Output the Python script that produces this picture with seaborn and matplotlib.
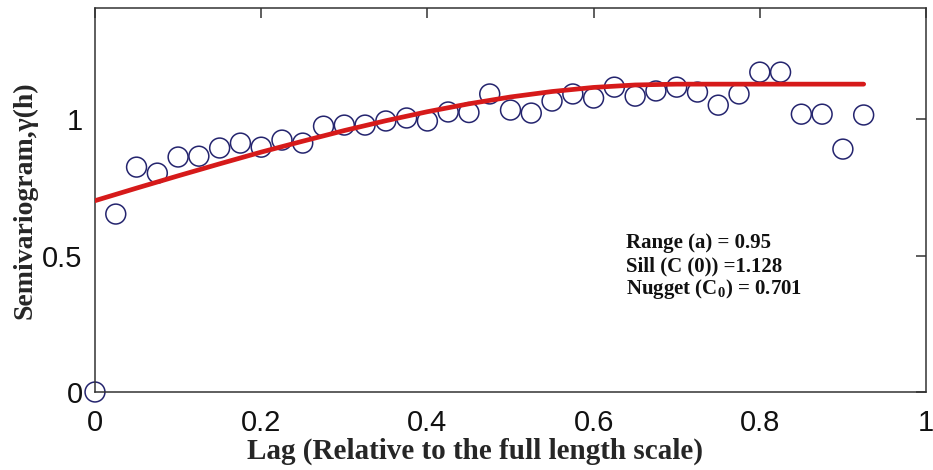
import matplotlib
matplotlib.use("Agg")
import matplotlib.pyplot as plt
import numpy as np
import pandas as pd
import seaborn as sns

# Experimental semivariogram (lag relative to full length scale)
lag = [0.000, 0.025, 0.050, 0.075, 0.100, 0.125, 0.150, 0.175, 0.200, 0.225,
       0.250, 0.275, 0.300, 0.325, 0.350, 0.375, 0.400, 0.425, 0.450, 0.475,
       0.500, 0.525, 0.550, 0.575, 0.600, 0.625, 0.650, 0.675, 0.700, 0.725,
       0.750, 0.775, 0.800, 0.825, 0.850, 0.875, 0.900, 0.925]
gamma = [0.000, 0.652, 0.824, 0.802, 0.861, 0.864, 0.894, 0.912, 0.897, 0.923,
         0.912, 0.974, 0.978, 0.978, 0.993, 1.004, 0.993, 1.026, 1.024, 1.092,
         1.033, 1.022, 1.066, 1.092, 1.077, 1.117, 1.084, 1.103, 1.117, 1.099,
         1.051, 1.092, 1.172, 1.172, 1.018, 1.018, 0.890, 1.015]

# Fitted model curve
model_lag = [0.00, 0.05, 0.10, 0.15, 0.20, 0.25, 0.30, 0.35, 0.40, 0.45,
             0.50, 0.55, 0.60, 0.65, 0.70, 0.925]
model_gamma = [0.701, 0.747, 0.792, 0.836, 0.879, 0.919, 0.958, 0.994, 1.027,
               1.056, 1.081, 1.101, 1.116, 1.125, 1.128, 1.128]

x_ticks = [0, 0.2, 0.4, 0.6, 0.8, 1]
x_tick_labels = ["0", "0.2", "0.4", "0.6", "0.8", "1"]
y_ticks = [0, 0.5, 1]
y_tick_labels = ["0", "0.5", "1"]

params_text = ["Range (a) = 0.95",
               "Sill (C (0)) =1.128",
               r"Nugget (C$_\mathbf{0}$) = 0.701"]

sns.set_theme(style="white")
plt.rcParams["font.family"] = ["Liberation Sans", "DejaVu Sans"]
plt.rcParams["mathtext.fontset"] = "custom"
plt.rcParams["mathtext.bf"] = "Liberation Serif:bold"
plt.rcParams["mathtext.rm"] = "Liberation Serif:bold"

exp_df = pd.DataFrame({"lag": lag, "gamma": gamma})
mod_df = pd.DataFrame({"lag": model_lag, "gamma": model_gamma})

fig = plt.figure(figsize=(9.33, 4.70), dpi=100)
ax = fig.add_axes([95 / 933, 78 / 470, 831 / 933, 384 / 470])

sns.scatterplot(data=exp_df, x="lag", y="gamma", ax=ax, marker="o", s=205,
                facecolors="none", edgecolor="#24246e", linewidth=1.1,
                zorder=2, clip_on=False)
sns.lineplot(data=mod_df, x="lag", y="gamma", ax=ax, color="#d61a1a",
             linewidth=3.4, zorder=3)

ax.set_xlim(0, 1)
ax.set_ylim(0, 1.407)
ax.set_xticks(x_ticks)
ax.set_xticklabels(x_tick_labels)
ax.set_yticks(y_ticks)
ax.set_yticklabels(y_tick_labels)

ax.tick_params(axis="both", direction="in", length=7, width=1.1,
               color="#333333", labelsize=21, labelcolor="#111111",
               top=True, right=True)
ax.tick_params(axis="x", pad=12)
ax.tick_params(axis="y", pad=9)
for sp in ax.spines.values():
    sp.set_color("#333333")
    sp.set_linewidth(1.1)
    sp.set_visible(True)

serif_bold = dict(family=["Liberation Serif", "DejaVu Serif"], weight="bold")
ax.set_xlabel("Lag (Relative to the full length scale)", fontsize=21,
              labelpad=1, **serif_bold)
ax.xaxis.set_label_coords(0.457, -0.12)
ax.set_ylabel("Semivariogram,γ(h)", fontsize=20, labelpad=3, **serif_bold)

for i, line in enumerate(params_text):
    ax.text(0.639, 0.375 - i * 0.06, line, transform=ax.transAxes,
            fontsize=15, color="#111111", va="baseline", ha="left",
            **serif_bold)

fig.savefig("out.png", dpi=100)
